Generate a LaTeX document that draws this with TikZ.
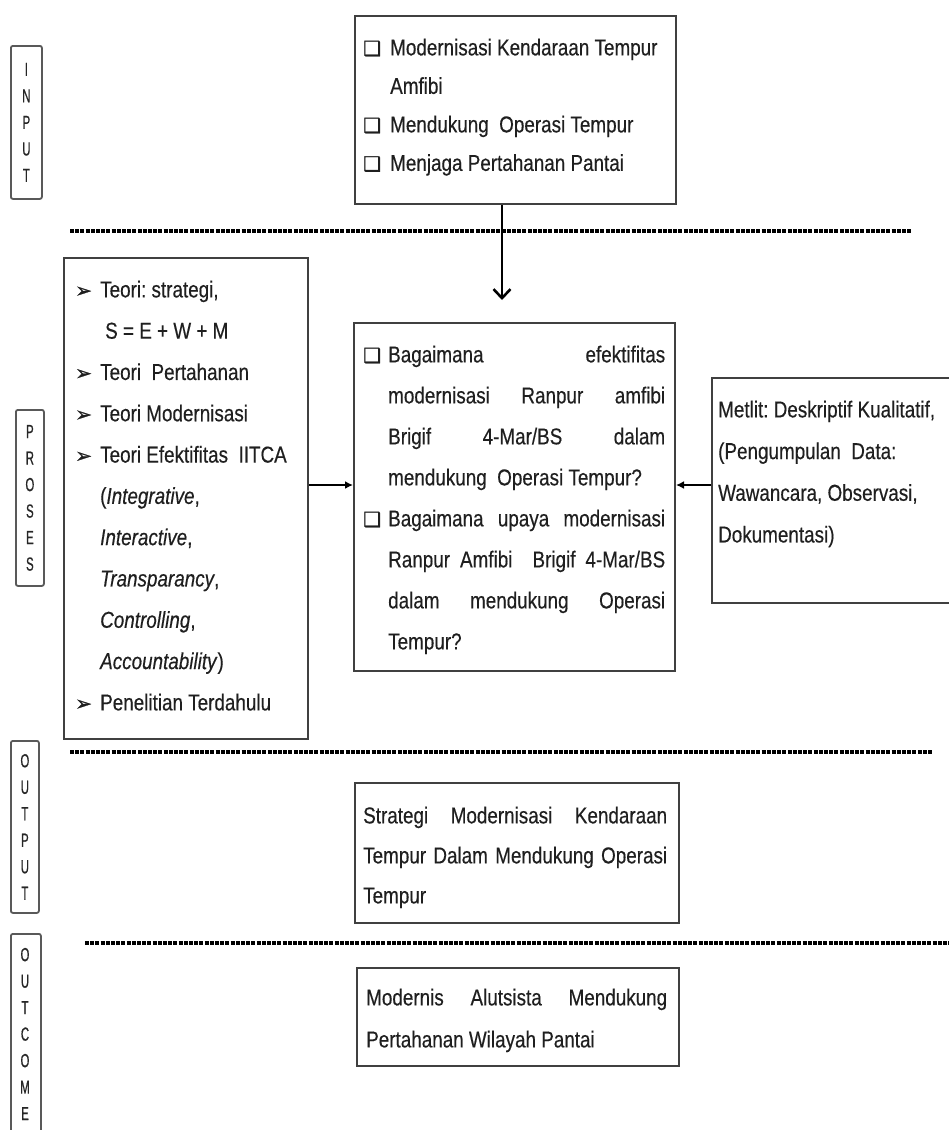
\documentclass[tikz,border=0pt]{standalone}
\usepackage{fontspec}
\setmainfont{Liberation Sans}[FakeStretch=0.82,FakeBold=0.35]
\newfontfamily\symfont{DejaVu Sans}[FakeBold=1.2]
\newfontfamily\labfont{Liberation Sans}[FakeStretch=0.6,FakeBold=0.6]
\usetikzlibrary{arrows.meta}
\newcommand\qbul{{\symfont\fontsize{20}{20}\selectfont ❑}}
\newcommand\abul{{\symfont\fontsize{20}{20}\selectfont ➢}}
\newcommand\bq{\makebox[25pt][l]{\qbul}}
\newcommand\bqq{\makebox[27pt][l]{\qbul}}
\newcommand\ba{\makebox[25pt][l]{\abul}}
\newcommand\ind{\hspace*{25pt}}
\newcommand\indd{\hspace*{27pt}}
\newcommand\jl[2]{\makebox[#1][s]{#2}}
\begin{document}
\begin{tikzpicture}[x=1pt,y=-1pt,
  box/.style={draw=black!75, line width=2pt, anchor=north west, inner sep=0pt},
  lab/.style={draw=black!65, line width=1.8pt, anchor=north west, inner sep=0pt, rounded corners=2pt},
  labtxt/.style={font=\labfont\fontsize{19}{26.5}\selectfont, align=center, inner sep=0pt, text=black!85},
  txt/.style={anchor=north west, inner sep=0pt, align=left, text=black!88},
  sep/.style={line width=3.2pt, dash pattern=on 4pt off 1.2pt},
  arr/.style={line width=2.8pt, -{Latex[length=8pt,width=8pt]}},
  varr/.style={line width=2.4pt, -{Straight Barb[length=9pt,width=17pt,line width=2.6pt]}}
]
\clip (0,0) rectangle (949,1130);
\fill[white] (0,0) rectangle (949,1130);

% label boxes
\node[lab, minimum width=31pt, minimum height=153pt] (lin) at (10,45) {};
\node[labtxt] (linT) at (lin.center) {I\\N\\P\\U\\T};
\node[lab, minimum width=28pt, minimum height=176pt] (lpr) at (15,409) {};
\node[labtxt] (lprT) at (lpr.center) {P\\R\\O\\S\\E\\S};
\node[lab, minimum width=28pt, minimum height=172pt] (lout) at (10,740) {};
\node[labtxt] (loutT) at (lout.center) {O\\U\\T\\P\\U\\T};
\node[lab, minimum width=30pt, minimum height=210pt] (lcome) at (10,933) {};
\node[labtxt] (lcomeT) at (25,1034) {O\\U\\T\\C\\O\\M\\E};

% boxes
\node[box, minimum width=321pt, minimum height=188pt] (inbox) at (354,15) {};
\node[box, minimum width=244pt, minimum height=481pt] (teori) at (63,257) {};
\node[box, minimum width=321pt, minimum height=348pt] (masalah) at (353,322) {};
\node[box, minimum width=260pt, minimum height=225pt] (metlit) at (711,377) {};
\node[box, minimum width=324pt, minimum height=140pt] (hasil) at (354,782) {};
\node[box, minimum width=322pt, minimum height=98pt] (dampak) at (356,967) {};

% separators
\draw[sep] (70,231) -- (912,231);
\draw[sep] (70,752) -- (933,752);
\draw[sep] (85,943) -- (949,943);

% texts
\node[txt, font=\frenchspacing\fontsize{23}{38.5}\selectfont] (intxt) at (363,38.5)
  {\bqq Modernisasi Kendaraan Tempur\\
   \indd Amfibi\\
   \bqq Mendukung\ \ Operasi Tempur\\
   \bqq Menjaga Pertahanan Pantai};
\node[txt, font=\frenchspacing\fontsize{23}{41.3}\selectfont] (teoritxt) at (75,280.5)
  {\ba Teori: strategi,\\
   \ind\hspace*{5pt}S = E + W + M\\
   \ba Teori\ \ Pertahanan\\
   \ba Teori Modernisasi\\
   \ba Teori Efektifitas\ \ IITCA\\
   \ind(\textit{Integrative},\\
   \ind\textit{Interactive},\\
   \ind\textit{Transparancy},\\
   \ind\textit{Controlling},\\
   \ind\textit{Accountability})\\
   \ba Penelitian Terdahulu};
\node[txt, font=\frenchspacing\fontsize{23}{41}\selectfont] (masalahtxt) at (363,345.5)
  {\bq\jl{277pt}{Bagaimana efektifitas}\\
   \ind\jl{277pt}{modernisasi Ranpur amfibi}\\
   \ind\jl{277pt}{Brigif 4-Mar/BS dalam}\\
   \ind mendukung\ \ Operasi Tempur?\\
   \bq\jl{277pt}{Bagaimana upaya modernisasi}\\
   \ind\jl{277pt}{Ranpur Amfibi\ \ Brigif 4-Mar/BS}\\
   \ind\jl{277pt}{dalam mendukung Operasi}\\
   \ind Tempur?};
\node[txt, font=\frenchspacing\fontsize{23}{41.7}\selectfont] (metlittxt) at (718,400.5)
  {Metlit: Deskriptif Kualitatif,\\
   (Pengumpulan\ \ Data:\\
   Wawancara, Observasi,\\
   Dokumentasi)};
\node[txt, font=\frenchspacing\fontsize{23}{40}\selectfont] (hasiltxt) at (363,806.5)
  {\jl{304pt}{Strategi Modernisasi Kendaraan}\\
   \jl{304pt}{Tempur Dalam Mendukung Operasi}\\
   Tempur};
\node[txt, font=\frenchspacing\fontsize{23}{42}\selectfont] (dampaktxt) at (366,988.5)
  {\jl{301pt}{Modernis Alutsista Mendukung}\\
   Pertahanan Wilayah Pantai};

% connectors
\coordinate (vx) at (502,0);
\coordinate (hy) at (0,485);
\draw[varr, shorten >=22pt] (inbox.south -| vx) -- (masalah.north -| vx);
\draw[arr] (teori.east |- hy) -- (masalah.west |- hy);
\draw[arr] (metlit.west |- hy) -- (masalah.east |- hy);
\end{tikzpicture}
\end{document}
